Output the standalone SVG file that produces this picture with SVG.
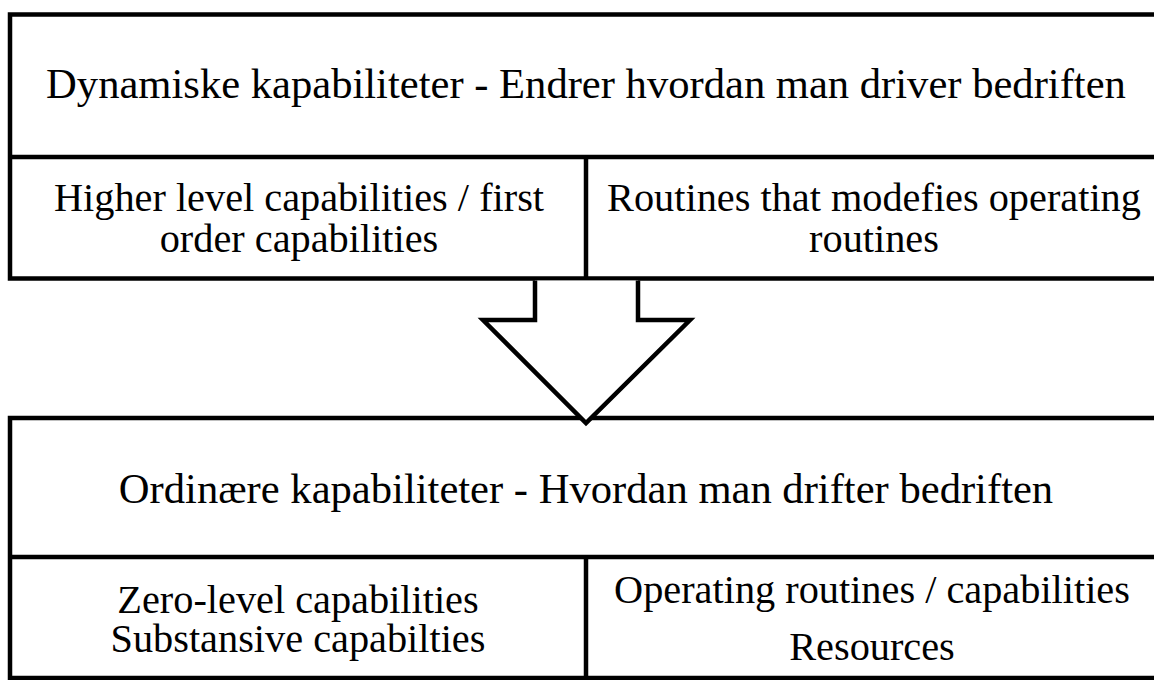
<svg xmlns="http://www.w3.org/2000/svg" width="1154" height="680" viewBox="0 0 1154 680">
  <style>
    .box { fill: #ffffff; stroke: #000000; stroke-width: 4.5; }
    .rule { fill: none; stroke: #000000; stroke-width: 4.5; }
    .arrow { fill: #ffffff; stroke: #000000; stroke-width: 4.5; stroke-linejoin: miter; }
    .label { font-family: "Liberation Serif", "Times New Roman", serif; font-size: 40.3px; fill: #000000; text-anchor: middle; }
    .title { font-size: 42.6px; }
  </style>
  <rect x="0" y="0" width="1154" height="680" fill="#ffffff"/>

  <!-- upper block: dynamic capabilities -->
  <g id="dynamic">
    <rect class="box" x="10" y="14.5" width="1152" height="264"/>
    <line class="rule" x1="10" y1="157" x2="1162" y2="157"/>
    <text class="label title" x="586" y="97.5">Dynamiske kapabiliteter - Endrer hvordan man driver bedriften</text>
  </g>
  <g id="dynamic-left">
    <text class="label" x="299" y="211">Higher level capabilities / first</text>
    <text class="label" x="299" y="252">order capabilities</text>
  </g>
  <g id="dynamic-right">
    <line class="rule" x1="586" y1="157" x2="586" y2="278.5"/>
    <text class="label" x="874" y="211">Routines that modefies operating</text>
    <text class="label" x="874" y="252">routines</text>
  </g>

  <!-- lower block: ordinary capabilities -->
  <g id="ordinary">
    <rect class="box" x="10" y="418" width="1152" height="260"/>
    <line class="rule" x1="10" y1="557" x2="1162" y2="557"/>
    <text class="label title" x="586" y="503">Ordinære kapabiliteter - Hvordan man drifter bedriften</text>
  </g>
  <g id="ordinary-left">
    <text class="label" x="298" y="613">Zero-level capabilities</text>
    <text class="label" x="298" y="652">Substansive capabilties</text>
  </g>
  <g id="ordinary-right">
    <line class="rule" x1="586" y1="557" x2="586" y2="678"/>
    <text class="label" x="872" y="603">Operating routines / capabilities</text>
    <text class="label" x="872" y="660">Resources</text>
  </g>

  <!-- connector: block arrow from upper to lower block -->
  <g id="connectors">
    <path class="arrow" d="M535,280.5 L535,320 L483,320 L586,423 L690,320 L638,320 L638,280.5"/>
  </g>
</svg>
